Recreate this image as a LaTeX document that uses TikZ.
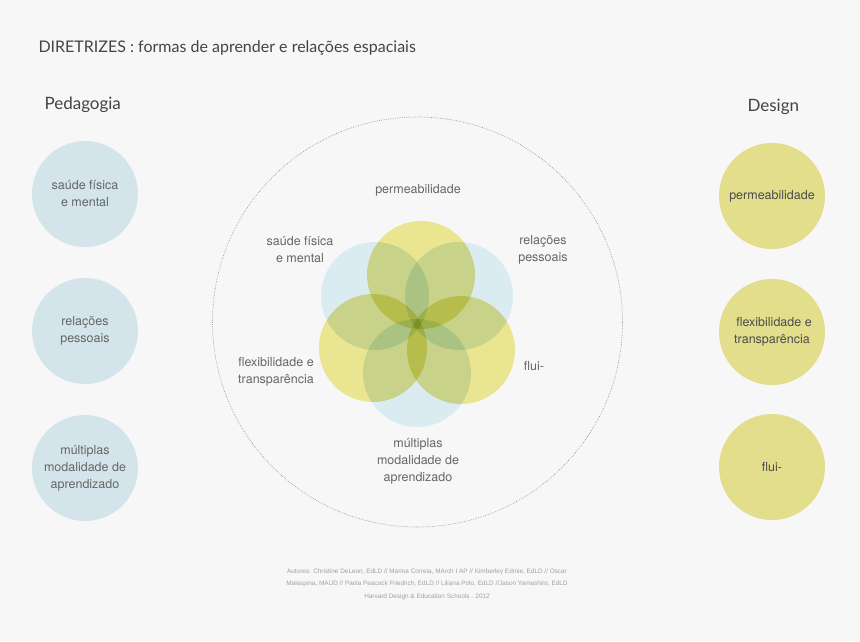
\documentclass[tikz,border=0pt]{standalone}
\usepackage{fontspec}
\setmainfont{TeX Gyre Heros}
\newfontfamily\headfont{Lato}
\newfontfamily\footfont{Liberation Sans}
\definecolor{bgc}{HTML}{F7F7F7}
\definecolor{bluec}{HTML}{D3E5EA}
\definecolor{yellc}{HTML}{E3DE8C}
\definecolor{blueM}{RGB}{218,236,242}
\definecolor{yellM}{RGB}{234,229,145}
\definecolor{labc}{HTML}{666666}
\definecolor{headc}{HTML}{444444}
\definecolor{footc}{HTML}{A0A0A0}
\tikzset{
  side/.style={circle, minimum size=106pt, inner sep=0pt, align=center, font=\fontsize{12.5}{17}\selectfont, text=labc},
  bluedisc/.style={side, fill=bluec},
  yelldisc/.style={side, fill=yellc, text=black!70},
  petal/.style={circle, minimum size=108pt, inner sep=0pt},
  flab/.style={align=center, font=\fontsize{12.5}{17}\selectfont, text=labc},
  head/.style={font=\headfont\fontsize{16}{18}\selectfont, text=headc, anchor=base west},
  subhead/.style={head, font=\headfont\fontsize{17}{18}\selectfont}
}
\begin{document}
\begin{tikzpicture}[x=1pt,y=-1pt]
\path[fill=bgc] (0,0) rectangle (860,641);
\useasboundingbox (0,0) rectangle (860,641);

\node[head] (title) at (35,52) {DIRETRIZES : formas de aprender e relações espaciais};
\node[subhead] (ped) at (41,109) {Pedagogia};
\node[subhead] (des) at (744,111) {Design};

% left
\node[bluedisc] (l1) at (85,194) {saúde física\\e mental};
\node[bluedisc] (l2) at (85,331) {relações\\pessoais};
\node[bluedisc] (l3) at (85,468) {múltiplas\\modalidade de\\aprendizado};

% right
\node[yelldisc] (r1) at (772,196) {permeabilidade};
\node[yelldisc] (r2) at (772,332) {\hspace*{4pt}flexibilidade e\\transparência};
\node[yelldisc] (r3) at (772,467) {flui-};

% big dotted circle
\node[circle, draw=black!55, line width=0.6pt, dash pattern=on 0.5pt off 1.3pt, minimum size=410pt, inner sep=0pt] (big) at (417.5,322) {};

% flower
\begin{scope}[blend group=multiply]
\node[petal, fill=blueM] (bTL) at (375,296) {};
\node[petal, fill=blueM] (bTR) at (459,296) {};
\node[petal, fill=blueM] (bB) at (417,373) {};
\node[petal, fill=yellM] (yT) at (421,275) {};
\node[petal, fill=yellM] (yR) at (461,350) {};
\node[petal, fill=yellM] (yL) at (373,348) {};
\end{scope}

% flower labels
\node[flab] (f1) at (418,190) {permeabilidade};
\node[flab] (f2) at (300,250) {saúde física\\e mental};
\node[flab] (f3) at (543,250) {relações\\pessoais};
\node[flab] (f4) at (276,372) {flexibilidade e\\transparência};
\node[flab] (f5) at (534,366) {flui-};
\node[flab] (f6) at (418,461) {múltiplas\\modalidade de\\aprendizado};

% footer
\node[align=center, font=\footfont\fontsize{6.4}{12.5}\selectfont, text=footc] (foot) at (427,584)
 {Autores: Christine DeLeon, EdLD // Marina Correia, MArch I AP // Kimberley Edmie, EdLD // Oscar\\
  Malaspina, MAUD // Paola Peacock Friedrich, EdLD // Liliana Polo, EdLD //Jason Yamashiro, EdLD\\
  Harvard Design \& Education Schools . 2012};
\end{tikzpicture}
\end{document}
